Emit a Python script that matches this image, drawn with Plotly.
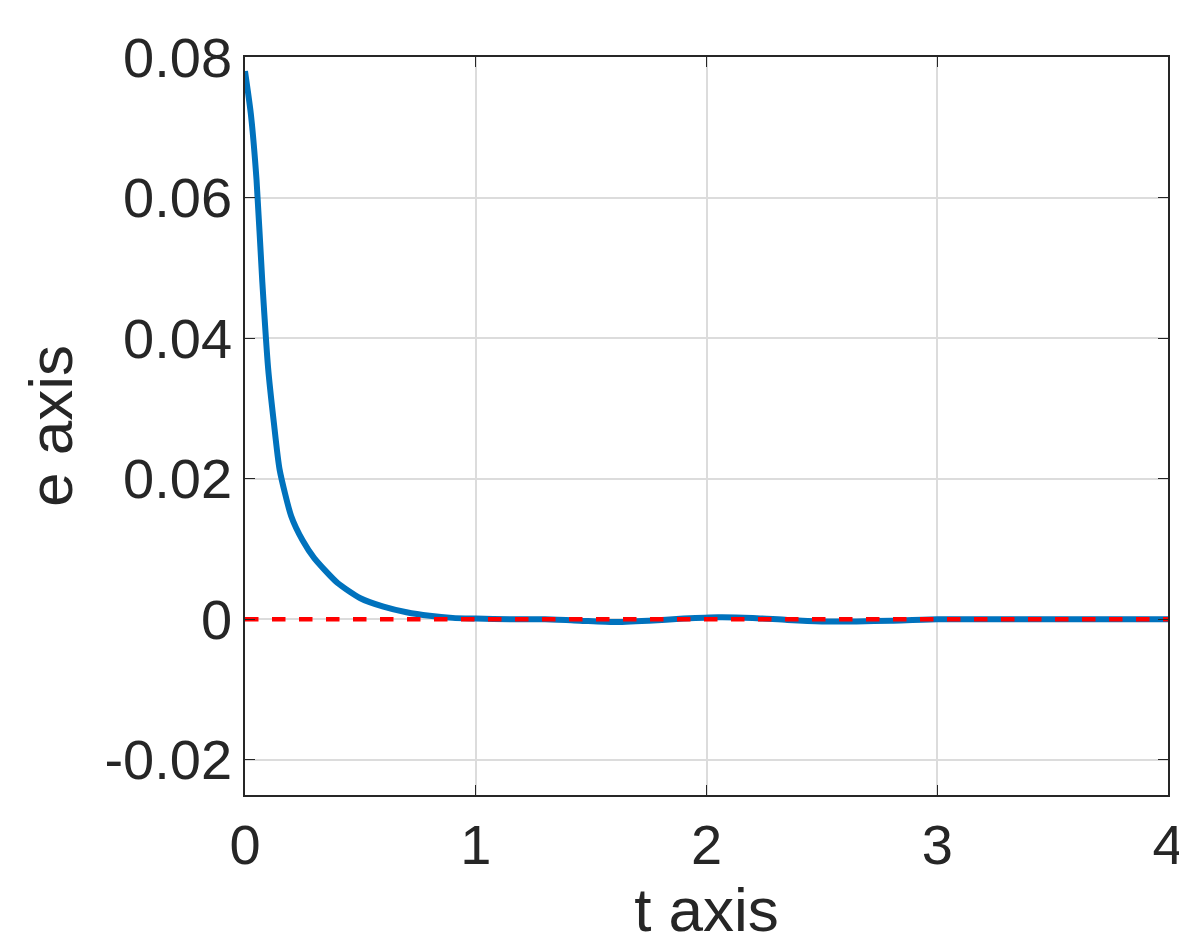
import plotly.graph_objects as go

t = [0, 0.025, 0.05, 0.075, 0.1, 0.125, 0.15, 0.2, 0.25, 0.3, 0.4, 0.5, 0.6, 0.7, 0.8, 0.9, 1.0, 1.15, 1.3, 1.45, 1.6, 1.75, 1.9, 2.05, 2.2, 2.35, 2.5, 2.65, 2.8, 3.0, 3.3, 3.6, 4.0]
e = [0.078, 0.072, 0.0625, 0.048, 0.0358, 0.028, 0.0213, 0.0147, 0.0112, 0.0087, 0.0052, 0.003, 0.0018, 0.001, 0.0005, 0.0002, 0.0001, 0.0, 0.0, -0.0002, -0.0004, -0.0002, 0.0001, 0.0003, 0.0002, -0.0001, -0.0003, -0.0003, -0.0002, 0.0, 0.0, 0.0, 0.0]
ref_t = [0, 4]
ref_e = [0, 0]

fig = go.Figure()
fig.add_trace(go.Scatter(x=t, y=e, mode="lines", line=dict(color="#0072BD", width=6, shape="spline", smoothing=0.6)))
fig.add_trace(go.Scatter(x=ref_t, y=ref_e, mode="lines", line=dict(color="#FF0000", width=4.5, dash="dash")))

ax = dict(showline=True, linecolor="#262626", linewidth=1.5, mirror="ticks", ticks="inside", ticklen=10,
          tickcolor="#262626", showgrid=True, gridcolor="#DCDCDC", gridwidth=1.5, zeroline=False,
          tickfont=dict(family="Liberation Sans, Arial", size=56, color="#262626"))
fig.update_xaxes(**ax, range=[0, 4], tickvals=[0, 1, 2, 3, 4],
                 title=dict(text="t axis", font=dict(family="Liberation Sans, Arial", size=62, color="#262626"), standoff=5))
fig.update_yaxes(**ax, range=[-0.025, 0.08], tickvals=[-0.02, 0, 0.02, 0.04, 0.06, 0.08],
                 ticktext=["-0.02", "0", "0.02", "0.04", "0.06", "0.08"],
                 title=dict(text="e axis", font=dict(family="Liberation Sans, Arial", size=62, color="#262626"), standoff=12))
fig.update_layout(width=1187, height=936, showlegend=False, plot_bgcolor="white", paper_bgcolor="white",
                  margin=dict(l=237, r=27, t=49, b=149))
fig.write_html("out.html")
